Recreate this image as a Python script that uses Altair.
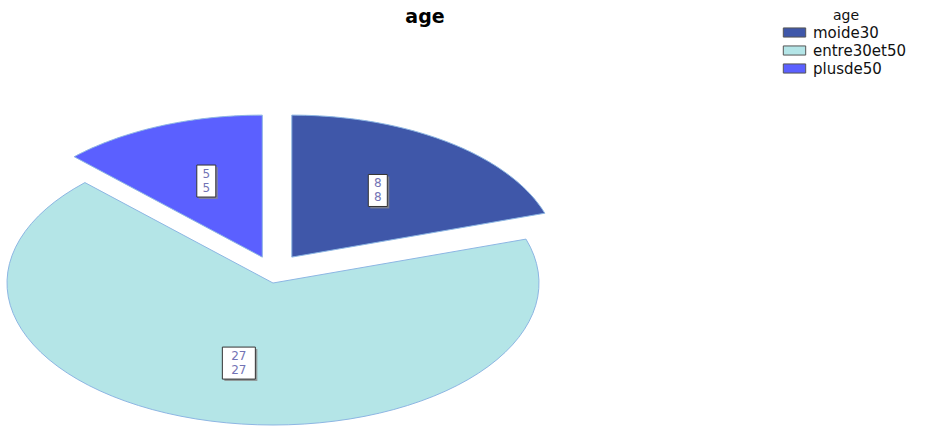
import altair as alt
import pandas as pd

# ---- data ----
categories = ["moide30", "entre30et50", "plusde50"]
counts = [8, 27, 5]
colors = ["#3F57A9", "#B4E5E7", "#5B60FF"]

df = pd.DataFrame({"age": categories, "value": counts, "order": list(range(len(categories)))})

# ---- layout / style parameters ----
W, H = 944, 427
CX, CY, RX, RY = 273, 283, 266, 142
EXPLODE = "[32, 0, 28]"
N = 72

xs = alt.Scale(domain=[0, W], range=[0, W], nice=False, zero=False)
ys = alt.Scale(domain=[0, H], range=[0, H], nice=False, zero=False)

base = (
    alt.Chart(df)
    .transform_joinaggregate(total="sum(value)")
    .transform_window(cum="sum(value)", sort=[alt.SortField("order", order="ascending")], frame=[None, 0])
    .transform_calculate(
        a0="2*PI*(datum.cum - datum.value)/datum.total",
        a1="2*PI*datum.cum/datum.total",
    )
    .transform_calculate(mid="(datum.a0 + datum.a1)/2", ex=f"{EXPLODE}[datum.order]")
    .transform_calculate(
        ox=f"{CX} + datum.ex*sin(datum.mid)",
        oy=f"{CY} - datum.ex*cos(datum.mid)",
    )
)

slices = (
    base.transform_calculate(k=f"sequence(0, {N + 3})")
    .transform_flatten(["k"])
    .transform_calculate(
        ang=f"datum.a0 + (datum.a1 - datum.a0)*(datum.k - 1)/{N}",
        edge=f"datum.k == 0 || datum.k == {N + 2}",
    )
    .transform_calculate(
        px=f"datum.edge ? datum.ox : datum.ox + {RX}*sin(datum.ang)",
        py=f"datum.edge ? datum.oy : datum.oy - {RY}*cos(datum.ang)",
    )
    .mark_line(stroke="#8DB6E3", strokeWidth=1, interpolate="linear")
    .encode(
        x=alt.X("px:Q", scale=xs, axis=None),
        y=alt.Y("py:Q", scale=ys, axis=None),
        fill=alt.Fill(
            "age:N",
            scale=alt.Scale(domain=categories, range=colors),
            sort=categories,
            legend=alt.Legend(
                title="age",
                orient="none",
                legendX=787,
                legendY=9,
                titleAnchor="middle",
                titleFont="DejaVu Sans",
                titleFontSize=14,
                titleFontWeight="normal",
                titleColor="#111",
                titlePadding=2,
                labelFont="DejaVu Sans",
                labelFontSize=15,
                labelColor="#111",
                labelOffset=11,
                labelLimit=300,
                symbolType="M-1.6,-0.65H1.6V0.65H-1.6Z",
                symbolSize=196,
                symbolStrokeColor="#555",
                symbolStrokeWidth=1,
                symbolOpacity=1,
                rowPadding=2,
            ),
        ),
        detail="age:N",
        order="k:Q",
    )
)

lab = base.transform_calculate(
    lx=f"datum.ox + 0.55*{RX}*sin(datum.mid)",
    ly=f"datum.oy - 0.58*{RY}*cos(datum.mid)",
    txt="toString(datum.value)",
    w="5 + 14*length(toString(datum.value))",
).transform_calculate(
    bx1="datum.lx - datum.w/2",
    bx2="datum.lx + datum.w/2",
    by1="datum.ly - 16",
    by2="datum.ly + 16",
    sx1="datum.lx - datum.w/2 + 2",
    sx2="datum.lx + datum.w/2 + 2",
    sy1="datum.ly - 14",
    sy2="datum.ly + 18",
)

shadow = lab.mark_rect(fill="#8a8a8a", opacity=0.8).encode(
    x=alt.X("sx1:Q", scale=xs, axis=None), x2="sx2:Q",
    y=alt.Y("sy1:Q", scale=ys, axis=None), y2="sy2:Q",
)
box = lab.mark_rect(fill="white", stroke="#333", strokeWidth=1).encode(
    x=alt.X("bx1:Q", scale=xs, axis=None), x2="bx2:Q",
    y=alt.Y("by1:Q", scale=ys, axis=None), y2="by2:Q",
)
text_style = dict(font="DejaVu Sans", fontSize=12, color="#7373B5", align="center", baseline="middle")
text1 = lab.mark_text(dy=-7, **text_style).encode(
    x=alt.X("lx:Q", scale=xs, axis=None),
    y=alt.Y("ly:Q", scale=ys, axis=None),
    text="txt:N",
)
text2 = lab.mark_text(dy=7, **text_style).encode(
    x=alt.X("lx:Q", scale=xs, axis=None),
    y=alt.Y("ly:Q", scale=ys, axis=None),
    text="txt:N",
)

chart = (
    alt.layer(slices, shadow, box, text1, text2)
    .properties(
        width=W,
        height=H,
        autosize=alt.AutoSizeParams(type="none"),
        padding=0,
        title=alt.TitleParams(
            "age", anchor="middle", dx=-47, dy=31,
            font="DejaVu Sans", fontSize=19, fontWeight="bold", color="#000",
        ),
    )
    .configure_view(stroke=None)
)

chart.save("out.html", embed_options={"renderer": "svg", "actions": False})
